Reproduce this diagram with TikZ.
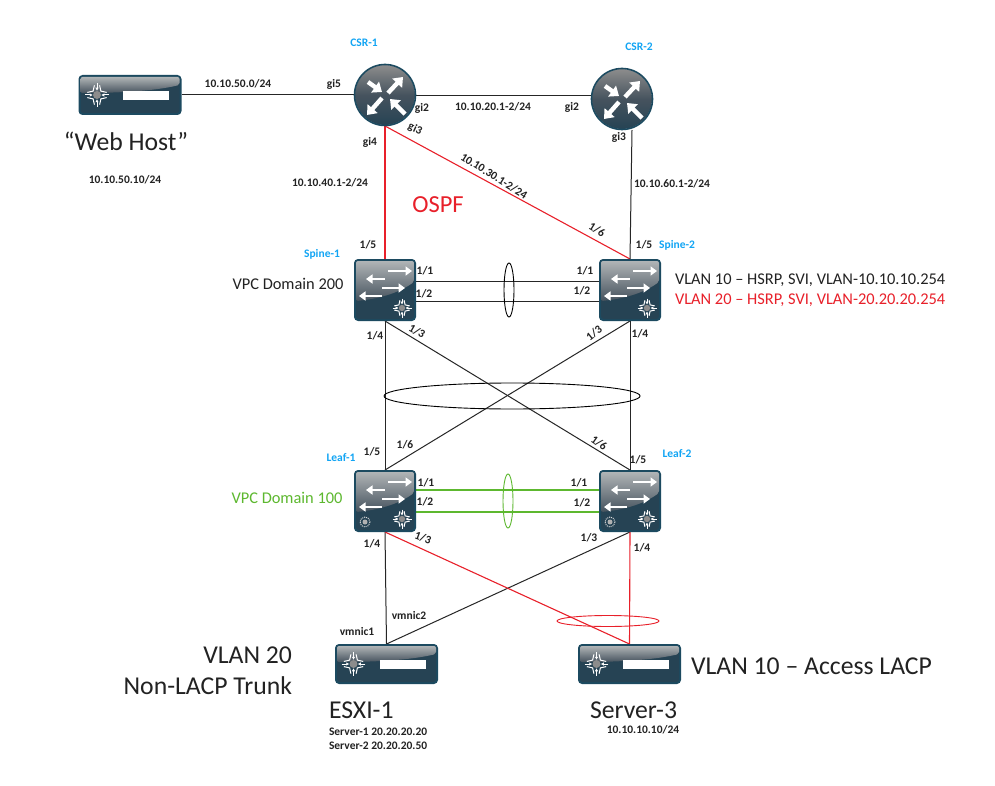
\documentclass[tikz,border=0pt]{standalone}
\usepackage{fontspec}
\setmainfont{Carlito}
\usepackage{xcolor}
\usetikzlibrary{arrows.meta, positioning, calc, shapes.geometric}

\definecolor{netedge}{HTML}{1C4A60}
\definecolor{netdark}{HTML}{264354}
\definecolor{netlight}{HTML}{B0B4B6}
\definecolor{netmid}{HTML}{46535E}
\definecolor{skyblue}{HTML}{12A5F4}
\definecolor{ospfred}{HTML}{E8202A}
\definecolor{vpcgreen}{HTML}{5DB82F}
\definecolor{inkdark}{HTML}{222222}

\tikzset{
  nofill/.style={inner sep=0pt, outer sep=0pt},
  boxnode/.style={rectangle, nofill, minimum width=62, minimum height=62},
  hostnode/.style={rectangle, nofill, minimum width=103, minimum height=40},
  ballnode/.style={circle, nofill, minimum size=62},
  portlabel/.style={font=\fontsize{11.5}{13}\selectfont\bfseries, text=inkdark, nofill},
  devlabel/.style={font=\fontsize{11.5}{13}\selectfont\bfseries, text=skyblue, nofill},
  biglabel/.style={font=\fontsize{25.7}{30}\selectfont, text=inkdark, nofill},
  vlanlabel/.style={font=\fontsize{16.4}{19}\selectfont, text=inkdark, nofill},
  lagring/.style={ellipse, draw, line width=0.9pt, nofill},
  link/.style={line width=1pt, draw=black!85},
  redlink/.style={line width=1.1pt, draw=ospfred},
  greenlink/.style={line width=1.1pt, draw=vpcgreen},
  whitearrow/.style={white, line width=2.8pt, -{Triangle[length=6.5pt,width=9pt]}},
  fatarrow/.style={white, line width=4.4pt, -{Triangle[length=8.5pt,width=13pt]}},
  starmark/.pic={
    \fill[black!45] (0,0) circle (3.2);
    \foreach \ang in {0,90,180,270}
      \draw[white, line width=1pt, -{Latex[length=3pt,width=3.4pt]}] (\ang:9.5) -- (\ang:3.4);
    \foreach \ang in {45,135,225,315}
      \draw[white, line width=1pt] (\ang-30:8) -- (\ang:4.4) -- (\ang+30:8);
  },
  switchicon/.pic={
    \fill[netedge, rounded corners=4] (-31,-31) rectangle (31,31);
    \fill[netdark, rounded corners=3] (-29,-29) rectangle (29,29);
    \shade[top color=netlight, bottom color=netmid, rounded corners=2]
      (-29,11) -- (-29,-29) -- (29,-29) -- (29,-8) .. controls (12,4) and (-8,9) .. (-29,11) -- cycle;
    \draw[whitearrow] (3,-19) -- (27,-19);
    \draw[whitearrow] (0,-11) -- (-19,-11);
    \draw[whitearrow] (-3,-2) -- (20,-2);
    \draw[whitearrow] (-3,6) -- (-26,6);
    \pic at (17,18) {starmark};
  },
  leaficon/.pic={
    \pic {switchicon};
    \draw[white!85!black, line width=1pt, dash pattern=on 1pt off 1pt] (-20,21) circle (5);
    \fill[white!70!black] (-20,21) circle (2.5);
  },
  routericon/.pic={
    \shade[top color=black!45, bottom color=netdark, middle color=netmid] (0,0) circle (30);
    \draw[netedge, line width=1.6pt] (0,0) circle (30.5);
    \draw[fatarrow] (-17,-13) -- (-3,-3);
    \draw[fatarrow] (3,-2) -- (18,-18);
    \draw[fatarrow] (-3,3) -- (-18,20);
    \draw[fatarrow] (20,19) -- (5,4);
  },
  servericon/.pic={
    \fill[netedge, rounded corners=4] (-51.5,-20) rectangle (51.5,20);
    \fill[netdark, rounded corners=3] (-49.5,-18) rectangle (49.5,18);
    \shade[top color=netlight, bottom color=netmid, rounded corners=2]
      (-49.5,-2) -- (-49.5,-18) -- (49.5,-18) -- (49.5,-10) .. controls (20,-3) and (-20,-2) .. (-49.5,-2) -- cycle;
    \fill[white] (-7,-4) rectangle (39,5);
    \pic[scale=1.25] at (-33,0) {starmark};
  },
}

\begin{document}
\begin{tikzpicture}[x=1pt, y=-1pt]
  \useasboundingbox[fill=white] (0,0) rectangle (995,786);

  % devices
  \node[hostnode] (webhost) at (130,95) {};
  \node[ballnode] (csrone) at (385,95) {};
  \node[ballnode] (csrtwo) at (622,99) {};
  \node[boxnode] (spineone) at (385,290) {};
  \node[boxnode] (spinetwo) at (630,290) {};
  \node[boxnode] (leafone) at (385,501) {};
  \node[boxnode] (leaftwo) at (630,501) {};
  \node[hostnode] (esxione) at (386.5,664) {};
  \node[hostnode] (serverthree) at (629.5,664) {};

  % links
  \draw[link] (webhost.east) -- (csrone.west);
  \draw[link] ([yshift=-1]csrone.east) -- ([yshift=3]csrtwo.west);
  \draw[redlink] (csrone.south) -- (spineone.north);
  \draw[redlink] (csrone.south) -- (spinetwo.north);
  \draw[link] ([xshift=10]csrtwo.south) -- (spinetwo.north);
  \draw[link] ([yshift=9]spineone.east) -- ([yshift=9]spinetwo.west);
  \draw[link] ([yshift=-11]spineone.east) -- ([yshift=-11]spinetwo.west);
  \draw[link] (spineone.south) -- (leafone.north);
  \draw[link] (spineone.south) -- (leaftwo.north);
  \draw[link] (spinetwo.south) -- (leafone.north);
  \draw[link] (spinetwo.south) -- (leaftwo.north);
  \draw[greenlink] ([yshift=11]leafone.east) -- ([yshift=11]leaftwo.west);
  \draw[greenlink] ([yshift=-11]leafone.east) -- ([yshift=-11]leaftwo.west);
  \draw[link] (leafone.south) -- (esxione.north);
  \draw[link] (leaftwo.south) -- (esxione.north);
  \draw[redlink] (leafone.south) -- (serverthree.north);
  \draw[redlink] (leaftwo.south) -- (serverthree.north);

  % port channel rings
  \node[lagring, minimum width=10, minimum height=54] (spinelag) at (509,290) {};
  \node[lagring, minimum width=256, minimum height=26] (corelag) at (512,396) {};
  \node[lagring, draw=vpcgreen, minimum width=10, minimum height=54] (leaflag) at (508,501) {};
  \node[lagring, draw=ospfred, minimum width=102, minimum height=11] (serverlag) at (608,621) {};

  % icons
  \pic at (webhost) {servericon};
  \pic at (csrone) {routericon};
  \pic at (csrtwo) {routericon};
  \pic at (spineone) {switchicon};
  \pic at (spinetwo) {switchicon};
  \pic at (leafone) {leaficon};
  \pic at (leaftwo) {leaficon};
  \pic at (esxione) {servericon};
  \pic at (serverthree) {servericon};

  % device names
  \foreach \xx/\yy/\txt/\name in {364/43/CSR-1/csronename, 639/47/CSR-2/csrtwoname,
      322/254/Spine-1/spineonename, 677/245/Spine-2/spinetwoname,
      341/458/Leaf-1/leafonename, 677/454/Leaf-2/leaftwoname}
    \node[devlabel] (\name) at (\xx,\yy) {\txt};

  % port and subnet labels
  \foreach \xx/\yy/\txt/\name in {238/84/10.10.50.0\slash 24/netfifty, 334/84/gi5/gifive,
      422/108/gi2/gitwoa, 370/142/gi4/gifour, 330/183/10.10.40.1-2\slash 24/netforty,
      125/180/10.10.50.10\slash 24/webaddr, 493/107/10.10.20.1-2\slash 24/nettwenty,
      572/107/gi2/gitwob, 619/137/gi3/githreeb, 672/184/10.10.60.1-2\slash 24/netsixty,
      644/245/1\slash 5/spinetwofive, 368/245/1\slash 5/spineonefive,
      425/271/1\slash 1/spineoneone, 424/294/1\slash 2/spineonetwo,
      585/271/1\slash 1/spinetwoone, 582/291/1\slash 2/spinetwotwo,
      375/336/1\slash 4/spineonefour, 640/334/1\slash 4/spinetwofour,
      372/452/1\slash 5/leafonefive, 405/445/1\slash 6/leafonesix, 638/460/1\slash 5/leaftwofive,
      426/483/1\slash 1/leafoneone, 425/502/1\slash 2/leafonetwo,
      579/483/1\slash 1/leaftwoone, 582/503/1\slash 2/leaftwotwo,
      372/544/1\slash 4/leafonefour, 589/538/1\slash 3/leaftwothree, 642/548/1\slash 4/leaftwofour,
      409/616/vmnic2/vmnictwo, 357/632/vmnic1/vmnicone, 643/730/10.10.10.10\slash 24/serveraddr}
    \node[portlabel] (\name) at (\xx,\yy) {\txt};

  % labels that lie along a link
  \foreach \xx/\yy/\ang/\txt/\name in {415/129/-25/gi3/githreea, 494/176/-32/10.10.30.1-2\slash 24/netthirty,
      597/230/-32/1\slash 6/spinetwosix, 417/331/-30/1\slash 3/spineonethree,
      594/333/38/1\slash 3/spinetwothree, 599/443/-35/1\slash 6/leaftwosix,
      423/538/-20/1\slash 3/leafonethree}
    \node[portlabel, rotate=\ang] (\name) at (\xx,\yy) {\txt};

  % big text
  \node[biglabel] (webname) at (126,141) {“Web Host”};
  \node[biglabel, font=\fontsize{24.5}{28}\selectfont, text=ospfred] (ospfname) at (438,205) {OSPF};
  \node[biglabel, anchor=west] (esxiname) at (329,710) {ESXI-1};
  \node[biglabel, anchor=west] (servername) at (590,710) {Server-3};
  \node[biglabel, anchor=east] (vlantwenty) at (292,655) {VLAN 20};
  \node[biglabel, anchor=east] (trunkname) at (292,686) {Non-LACP Trunk};
  \node[biglabel, anchor=west] (accessname) at (691,666) {VLAN 10 – Access LACP};

  \node[vlanlabel] (vpctwo) at (288,284) {VPC Domain 200};
  \node[vlanlabel, text=vpcgreen] (vpcone) at (287,498) {VPC Domain 100};
  \node[vlanlabel, anchor=west] (vlanten) at (675,280) {VLAN 10 – HSRP, SVI, VLAN-10.10.10.254};
  \node[vlanlabel, anchor=west, text=ospfred] (vlanred) at (675,300) {VLAN 20 – HSRP, SVI, VLAN-20.20.20.254};

  \node[portlabel, anchor=west] (serverone) at (329,732) {Server-1 20.20.20.20};
  \node[portlabel, anchor=west] (servertwo) at (329,746) {Server-2 20.20.20.50};
\end{tikzpicture}
\end{document}
